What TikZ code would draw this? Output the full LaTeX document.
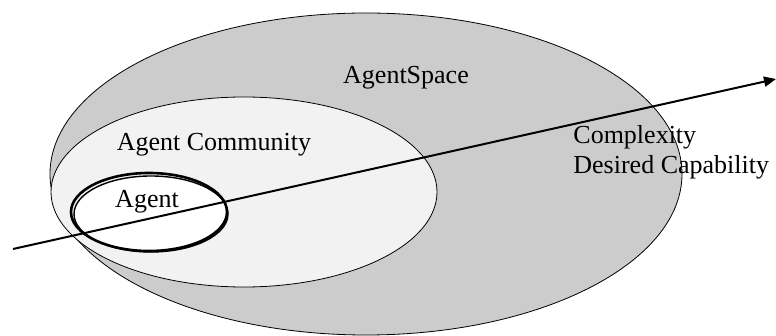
\documentclass[tikz,border=0pt]{standalone}
\usepackage{fontspec}
\setmainfont{Liberation Serif}
\usetikzlibrary{arrows.meta}

\begin{document}
\begin{tikzpicture}[% styles used in image code
       x = 0.5pt, y = -0.5pt,
       > = {Triangle[length=6pt, width=5pt]},
ring/.style = {draw, line width=0.4pt},
lbl/.style  = {font=\fontsize{13}{15}\selectfont, inner sep=0pt},
axis/.style = {->, line width=1pt}
                    ]
	\useasboundingbox (0,0) rectangle (776,336);

	% nested spaces
	\filldraw[ring, fill=black!20] (366,174) ellipse [x radius=316, y radius=161];
	\filldraw[ring, fill=black!5]  (244,192) ellipse [x radius=193, y radius=95];
	\draw[line width=0.7pt, fill=white] (151,214) ellipse [x radius=77, y radius=38];
	\draw[line width=1.3pt] (149,212) ellipse [x radius=78, y radius=39];

	% labels
	\node[lbl] (space) at (406,78)  {AgentSpace};
	\node[lbl] (comm)  at (214,145) {Agent Community};
	\node[lbl] (agent) at (147,202) {Agent};
	\node[lbl, anchor=west] (cplx) at (573,137) {Complexity};
	\node[lbl, anchor=west] (capa) at (573,167) {Desired Capability};

	% capability axis
	\coordinate (start) at (13,249);
	\coordinate (end)   at (776,79);
	\draw[axis] (start) -- (end);
\end{tikzpicture}
\end{document}
